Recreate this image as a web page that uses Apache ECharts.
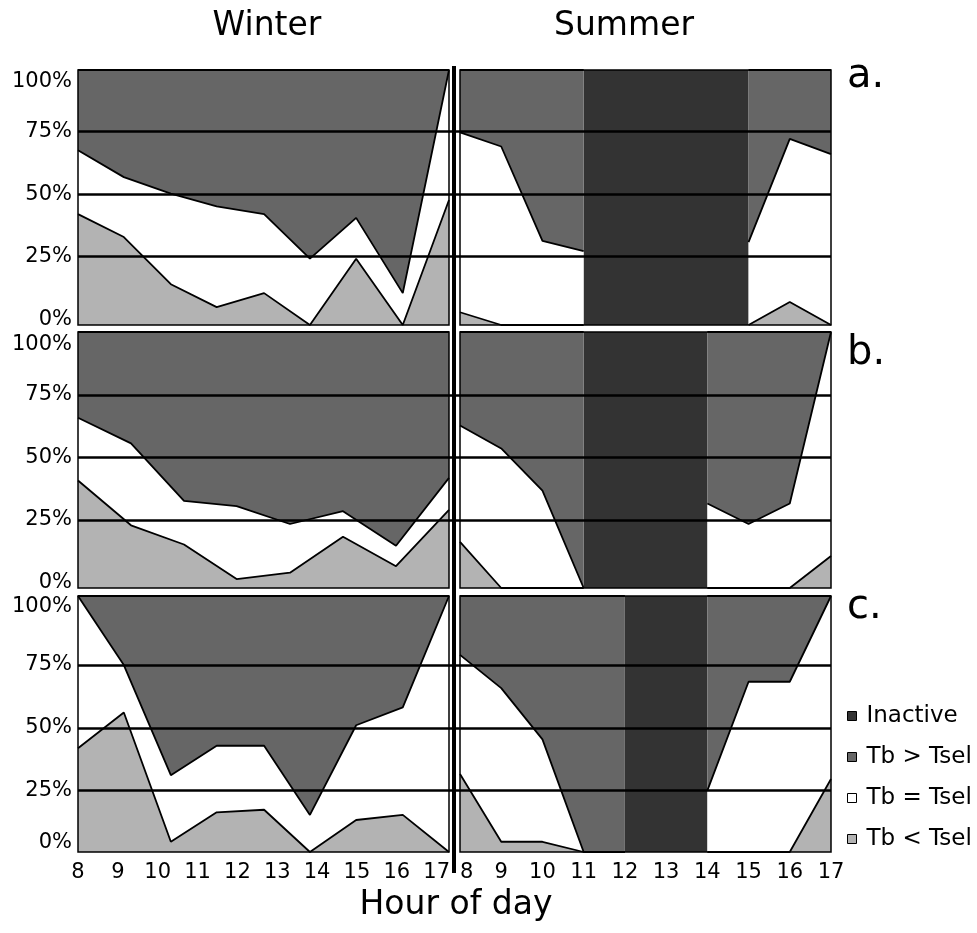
<!DOCTYPE html>
<html>
<head>
<meta charset="utf-8">
<script src="https://cdn.jsdelivr.net/npm/echarts@6/dist/echarts.min.js"></script>
<style>
html,body{margin:0;padding:0;background:#fff;}
#chart{width:977px;height:933px;}
</style>
</head>
<body>
<div id="chart"></div>
<script>
// ---------- data ----------
const seasonTitles = ['Winter', 'Summer'];
const rowLetters = ['a.', 'b.', 'c.'];
const legendNames = ['Inactive', 'Tb > Tsel', 'Tb = Tsel', 'Tb < Tsel'];
const xAxisTitle = 'Hour of day';
const yTicks = [0, 25, 50, 75, 100];
const winterAxisMax = 17.31;

// sample times (hour of day)
const winterHoursAC = [8, 9.15, 10.33, 11.48, 12.67, 13.82, 14.98, 16.15, 17.31];
const winterHoursB = [8, 9.33, 10.66, 11.98, 13.32, 14.65, 15.98, 17.31];
const summerHours = [8, 9, 10, 11, 12, 13, 14, 15, 16, 17];

// percentages: Tb < Tsel / Tb = Tsel / Tb > Tsel
const winterA_below = [43.5, 34.5, 16, 7, 12.5, 0, 26, 0, 49];
const winterA_equal = [25, 23.5, 35.5, 39.5, 31, 26, 16, 12.5, 51];
const winterA_above = [31.5, 42, 48.5, 53.5, 56.5, 74, 58, 87.5, 0];

const winterB_below = [42, 24.5, 17, 3.5, 6, 20, 8.5, 30.5];
const winterB_equal = [24.5, 32, 17, 28.5, 19, 10, 8, 12.5];
const winterB_above = [33.5, 43.5, 66, 68, 75, 70, 83.5, 57];

const winterC_below = [40.5, 54.5, 4, 15.5, 16.5, 0, 12.5, 14.5, 0];
const winterC_equal = [59.5, 18.5, 26, 26, 25, 14.5, 37, 42, 100];
const winterC_above = [0, 27, 70, 58.5, 58.5, 85.5, 50.5, 43.5, 0];

const summerA_below = [5, 0, 0, 0, null, null, null, 0, 9, 0];
const summerA_equal = [70.5, 70, 33, 29, null, null, null, 32.5, 64, 67];
const summerA_above = [24.5, 30, 67, 71, null, null, null, 67.5, 27, 33];
const summerA_inactive = [11, 15];

const summerB_below = [18, 0, 0, 0, null, null, 0, 0, 0, 12.5];
const summerB_equal = [45.5, 54.5, 38, 0, null, null, 33, 25, 33, 87.5];
const summerB_above = [36.5, 45.5, 62, 100, null, null, 67, 75, 67, 0];
const summerB_inactive = [11, 14];

const summerC_below = [30.5, 4, 4, 0, 0, null, 0, 0, 0, 28.5];
const summerC_equal = [46.5, 60, 40, 0, 0, null, 24, 66.5, 66.5, 71.5];
const summerC_above = [23, 36, 56, 100, 100, null, 76, 33.5, 33.5, 0];
const summerC_inactive = [12, 14];

// ---------- style / layout ----------
const FONT = 'DejaVu Sans';
const COL = { inactive: '#333333', above: '#666666', equal: '#ffffff', below: '#b3b3b3' };
const rowLayout = [{ top: 70, height: 255 }, { top: 332, height: 256 }, { top: 596, height: 256 }];
const colLayout = [{ left: 78, width: 371 }, { left: 460, width: 371 }];
const overlayLayout = [{ top: 69.2, height: 250 }, { top: 332.5, height: 250 }, { top: 602.2, height: 251.3 }];
const labelPads = [{ t: 25, b: 0 }, { t: 25, b: 0 }, { t: 9, b: 22 }];

const panels = [
  { row: 0, col: 0, hours: winterHoursAC, below: winterA_below, equal: winterA_equal, above: winterA_above },
  { row: 0, col: 1, hours: summerHours, below: summerA_below, equal: summerA_equal, above: summerA_above, inactive: summerA_inactive },
  { row: 1, col: 0, hours: winterHoursB, below: winterB_below, equal: winterB_equal, above: winterB_above },
  { row: 1, col: 1, hours: summerHours, below: summerB_below, equal: summerB_equal, above: summerB_above, inactive: summerB_inactive },
  { row: 2, col: 0, hours: winterHoursAC, below: winterC_below, equal: winterC_equal, above: winterC_above },
  { row: 2, col: 1, hours: summerHours, below: summerC_below, equal: summerC_equal, above: summerC_above, inactive: summerC_inactive }
];

// cumulative sum of layers (stack computed here, painted back-to-front)
function cumulate(layers, upto) {
  return layers[0].map(function (_, i) {
    let s = 0;
    for (let k = 0; k <= upto; k++) {
      if (layers[k][i] === null) return null;
      s += layers[k][i];
    }
    return s;
  });
}

const grids = [], xAxes = [], yAxes = [], series = [];

panels.forEach(function (p) {
  const gi = p.row * 2 + p.col;
  grids.push({
    left: colLayout[p.col].left, width: colLayout[p.col].width,
    top: rowLayout[p.row].top, height: rowLayout[p.row].height,
    show: true, borderColor: '#000', borderWidth: 1.5, backgroundColor: 'transparent',
    z: 10, outerBoundsMode: 'none', containLabel: false
  });
  xAxes.push({
    gridIndex: gi, type: 'value', min: 8, max: p.col === 0 ? winterAxisMax : 17, interval: 1,
    axisLine: { show: false }, axisTick: { show: false }, splitLine: { show: false },
    axisLabel: {
      show: p.row === 2, color: '#000', fontSize: 21, fontFamily: FONT, margin: 10,
      alignMinLabel: p.col === 1 ? 'left' : null,
      formatter: function (v) { return Number.isInteger(v) ? String(v) : ''; }
    }
  });
  yAxes.push({ gridIndex: gi, type: 'value', min: 0, max: 100, show: false });

  const stackLayers = [p.below, p.equal, p.above];
  const layers = [
    ['Tb > Tsel', cumulate(stackLayers, 2), COL.above, 3],
    ['Tb = Tsel', cumulate(stackLayers, 1), COL.equal, 4],
    ['Tb < Tsel', cumulate(stackLayers, 0), COL.below, 5]
  ];
  layers.forEach(function (L) {
    series.push({
      type: 'line', name: L[0], xAxisIndex: gi, yAxisIndex: gi, z: L[3],
      showSymbol: false, symbol: 'none', silent: true, connectNulls: false,
      lineStyle: { color: '#000', width: 1.8 },
      itemStyle: { color: L[2] },
      areaStyle: { color: L[2], opacity: 1, origin: 'start' },
      emphasis: { disabled: true },
      data: p.hours.map(function (h, i) { return [h, L[1][i] === null ? '-' : L[1][i]]; })
    });
  });
  if (p.inactive) {
    series.push({
      type: 'line', name: 'Inactive', xAxisIndex: gi, yAxisIndex: gi, z: 2,
      data: [], silent: true, itemStyle: { color: COL.inactive },
      markArea: {
        silent: true,
        itemStyle: { color: COL.inactive, opacity: 1, borderWidth: 0 },
        label: { show: false },
        emphasis: { disabled: true },
        data: [[{ xAxis: p.inactive[0] }, { xAxis: p.inactive[1] }]]
      }
    });
  }
});

// overlay grids carrying the shared percentage scale and horizontal guide lines
overlayLayout.forEach(function (o, r) {
  const gi = grids.length;
  grids.push({ left: 78, width: 753, top: o.top, height: o.height, show: false, outerBoundsMode: 'none', containLabel: false });
  xAxes.push({ gridIndex: gi, type: 'value', min: 0, max: 1, show: false });
  const pad = labelPads[r];
  yAxes.push({
    gridIndex: gi, type: 'value', min: 0, max: 100, interval: 25, z: 20,
    axisLine: { show: false }, axisTick: { show: false },
    splitLine: { show: true, lineStyle: { color: ['rgba(0,0,0,0)', '#000', '#000', '#000', 'rgba(0,0,0,0)'], width: 2.5 } },
    axisLabel: {
      color: '#000', fontSize: 21, fontFamily: FONT, margin: 6,
      formatter: function (v) {
        if (v === 100) return '{t|' + v + '%}';
        if (v === 0) return '{b|' + v + '%}';
        return v + '%';
      },
      rich: {
        t: { color: '#000', fontSize: 21, fontFamily: FONT, padding: [pad.t, 0, 0, 0] },
        b: { color: '#000', fontSize: 21, fontFamily: FONT, padding: [0, 0, pad.b, 0] }
      }
    }
  });
});

function txt(t, x, y, size, align) {
  return {
    type: 'text', z: 40, silent: true,
    style: { text: t, x: x, y: y, fill: '#000', font: size + 'px "' + FONT + '"',
             align: align, verticalAlign: 'middle', textAlign: align, textVerticalAlign: 'middle' }
  };
}

const graphics = [
  txt(seasonTitles[0], 267, 26, 33, 'center'),
  txt(seasonTitles[1], 624, 26, 33, 'center'),
  txt(rowLetters[0], 847, 77, 40, 'left'),
  txt(rowLetters[1], 847, 354, 40, 'left'),
  txt(rowLetters[2], 847, 608, 40, 'left'),
  txt(xAxisTitle, 456, 905, 33, 'center'),
  { type: 'line', z: 40, silent: true, shape: { x1: 454, y1: 66, x2: 454, y2: 873 }, style: { stroke: '#000', lineWidth: 4 } }
];

const option = {
  animation: false,
  backgroundColor: '#fff',
  textStyle: { fontFamily: FONT },
  grid: grids,
  xAxis: xAxes,
  yAxis: yAxes,
  legend: {
    data: legendNames, orient: 'vertical', left: 847, top: 704.5, padding: 0,
    icon: 'rect', itemWidth: 9, itemHeight: 9, itemGap: 18, selectedMode: false,
    itemStyle: { borderColor: '#000', borderWidth: 1 },
    textStyle: { color: '#000', fontSize: 23, fontFamily: FONT, padding: [0, 0, 0, 5] }
  },
  series: series,
  graphic: graphics
};

const chart = echarts.init(document.getElementById('chart'), null, { renderer: 'canvas' });
chart.setOption(option);
</script>
</body>
</html>
